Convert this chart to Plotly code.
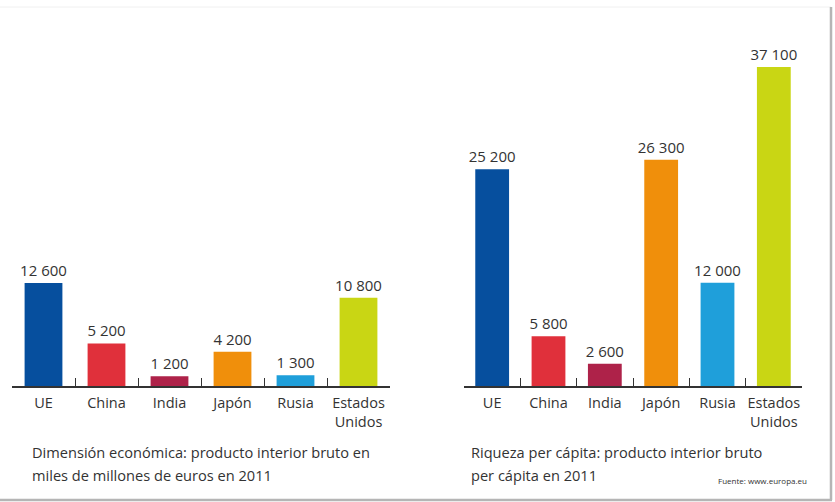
import plotly.graph_objects as go
from plotly.subplots import make_subplots

categories = ["UE", "China", "India", "Japón", "Rusia", "Estados<br>Unidos"]
pib_total = [12600, 5200, 1200, 4200, 1300, 10800]
pib_capita = [25200, 5800, 2600, 26300, 12000, 37100]
bar_colors = ["#064f9e", "#e0303b", "#ae2249", "#f08f0b", "#1f9fda", "#c9d614"]

caption_left = ["Dimensión económica: producto interior bruto en",
                "miles de millones de euros en 2011"]
caption_right = ["Riqueza per cápita: producto interior bruto",
                 "per cápita en 2011"]
source = "Fuente: www.europa.eu"

def fmt(v):
    return f"{v:,}".replace(",", " ")

W, H = 835, 502
FONT = "Open Sans, DejaVu Sans, sans-serif"
TXT = "#333333"

fig = make_subplots(rows=1, cols=2)

for col, vals in ((1, pib_total), (2, pib_capita)):
    fig.add_trace(go.Bar(
        x=categories, y=vals,
        marker=dict(color=bar_colors, line=dict(width=0)),
        text=[fmt(v) for v in vals], textposition="outside",
        constraintext="none",
        textfont=dict(size=15, color=TXT, family=FONT),
        cliponaxis=False, showlegend=False, hoverinfo="skip",
    ), row=1, col=col)

y0 = 1 - 386 / H
y1 = 1 - 67 / H
fig.update_layout(
    width=W, height=H,
    margin=dict(l=0, r=0, t=0, b=0),
    paper_bgcolor="white", plot_bgcolor="white",
    bargap=0.4,
    font=dict(family=FONT, color=TXT, size=14),
    xaxis=dict(domain=[12 / W, 390 / W]),
    xaxis2=dict(domain=[464 / W, 802 / W]),
    yaxis=dict(domain=[y0, y1], range=[0, 39000]),
    yaxis2=dict(domain=[y0, y1], range=[0, 37100]),
)
fig.update_xaxes(showline=True, linecolor="#333333", linewidth=1.5,
                 ticks="inside", tickson="boundaries", ticklen=8,
                 tickcolor="#333333", tickwidth=1.2, showgrid=False,
                 tickangle=0, ticklabelstandoff=3,
                 tickfont=dict(size=14.5, color=TXT, family=FONT), fixedrange=True)
fig.update_yaxes(visible=False, showgrid=False, zeroline=False, fixedrange=True)

for x_px, lines in ((30, caption_left), (469, caption_right)):
    for i, line in enumerate(lines):
        fig.add_annotation(xref="paper", yref="paper", x=x_px / W,
                           y=1 - (452 + 23 * i) / H,
                           xanchor="left", yanchor="middle", align="left",
                           text=line, showarrow=False,
                           font=dict(size=14.6, color=TXT, family=FONT))
fig.add_annotation(xref="paper", yref="paper", x=809 / W, y=1 - 480 / H,
                   xanchor="right", yanchor="middle",
                   text=source, showarrow=False,
                   font=dict(size=8, color=TXT, family=FONT))

# frame
fig.add_shape(type="line", xref="paper", yref="paper", x0=0, x1=831 / W,
              y0=1 - 7 / H, y1=1 - 7 / H, line=dict(color="#f0f0f0", width=1))
fig.add_shape(type="line", xref="paper", yref="paper", x0=831 / W, x1=831 / W,
              y0=1 - 500 / H, y1=1 - 7 / H, line=dict(color="#b5b5b5", width=2.5))
fig.add_shape(type="line", xref="paper", yref="paper", x0=0, x1=832 / W,
              y0=1 - 500 / H, y1=1 - 500 / H, line=dict(color="#b5b5b5", width=2.5))

fig.write_html("out.html", config={"displayModeBar": False},
               post_script="document.body.style.margin='0px';")
